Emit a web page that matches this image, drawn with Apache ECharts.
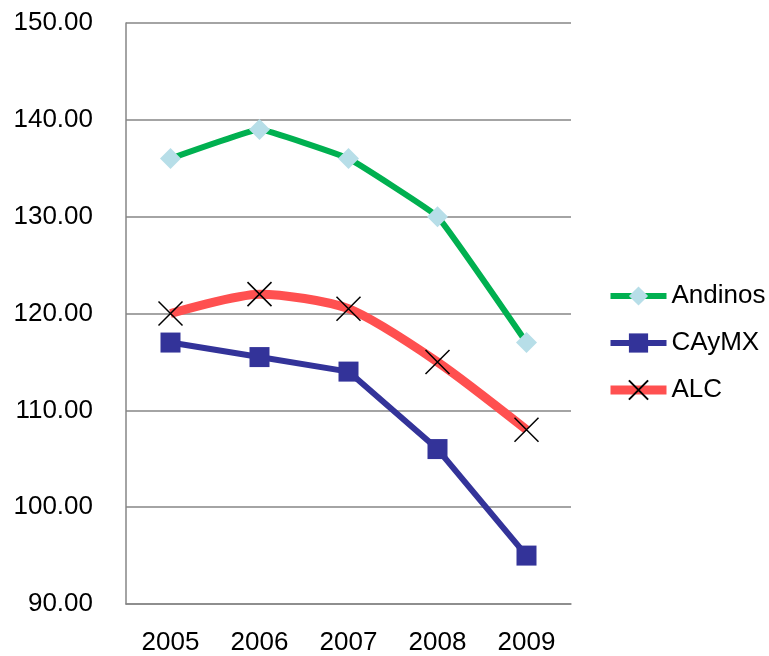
<!DOCTYPE html>
<html>
<head>
<meta charset="utf-8">
<script src="https://cdn.jsdelivr.net/npm/echarts@6/dist/echarts.min.js"></script>
<style>html,body{margin:0;padding:0;background:#fff;}#c{width:769px;height:656px;}</style>
</head>
<body>
<div id="c"></div>
<script>
const categories = ['2005', '2006', '2007', '2008', '2009'];
const andinos = [136, 139, 136, 130, 117];
const caymx = [117, 115.5, 114, 106, 95];
const alc = [120, 122, 120.5, 115, 108];
const yTicks = { min: 90, max: 150, interval: 10 };

const chart = echarts.init(document.getElementById('c'));
const font = 'Liberation Sans, Arial, sans-serif';
chart.setOption({
  animation: false,
  backgroundColor: '#fff',
  grid: { left: 126, right: 198, top: 23, bottom: 52 },
  legend: {
    orient: 'vertical',
    left: 606,
    top: 283,
    padding: 0,
    itemWidth: 56,
    itemHeight: 24,
    itemGap: 21,
    textStyle: { fontFamily: font, fontSize: 26, color: '#000' },
    data: [
      { name: 'Andinos', lineStyle: { width: 6 } },
      { name: 'CAyMX', lineStyle: { width: 6 } },
      { name: 'ALC', lineStyle: { width: 9 } }
    ]
  },
  xAxis: {
    type: 'category',
    data: categories,
    boundaryGap: true,
    axisLine: { lineStyle: { color: '#868686', width: 1.5 } },
    axisTick: { show: false },
    axisLabel: { fontFamily: font, fontSize: 26, color: '#000', margin: 26 }
  },
  yAxis: {
    type: 'value',
    min: yTicks.min,
    max: yTicks.max,
    interval: yTicks.interval,
    axisLine: { show: true, lineStyle: { color: '#868686', width: 1.5 } },
    axisTick: { show: false },
    splitLine: { lineStyle: { color: '#868686', width: 1.5 } },
    axisLabel: { fontFamily: font, fontSize: 26, color: '#000', margin: 33,
      formatter: v => v.toFixed(2) }
  },
  series: [
    {
      name: 'Andinos', type: 'line', data: andinos, smooth: 0.08,
      symbol: 'diamond', symbolSize: 21,
      lineStyle: { color: '#00B050', width: 6 },
      itemStyle: { color: '#B7DEE8' }
    },
    {
      name: 'CAyMX', type: 'line', data: caymx, smooth: false,
      symbol: 'rect', symbolSize: 20,
      lineStyle: { color: '#333399', width: 6 },
      itemStyle: { color: '#333399' }
    },
    {
      name: 'ALC', type: 'line', data: alc, smooth: 0.25,
      symbol: 'path://M0,0L10,10M10,0L0,10', symbolSize: 24,
      lineStyle: { color: '#FF5050', width: 9 },
      itemStyle: { color: 'none', borderColor: '#000', borderWidth: 1.5 }
    }
  ]
});
</script>
</body>
</html>
